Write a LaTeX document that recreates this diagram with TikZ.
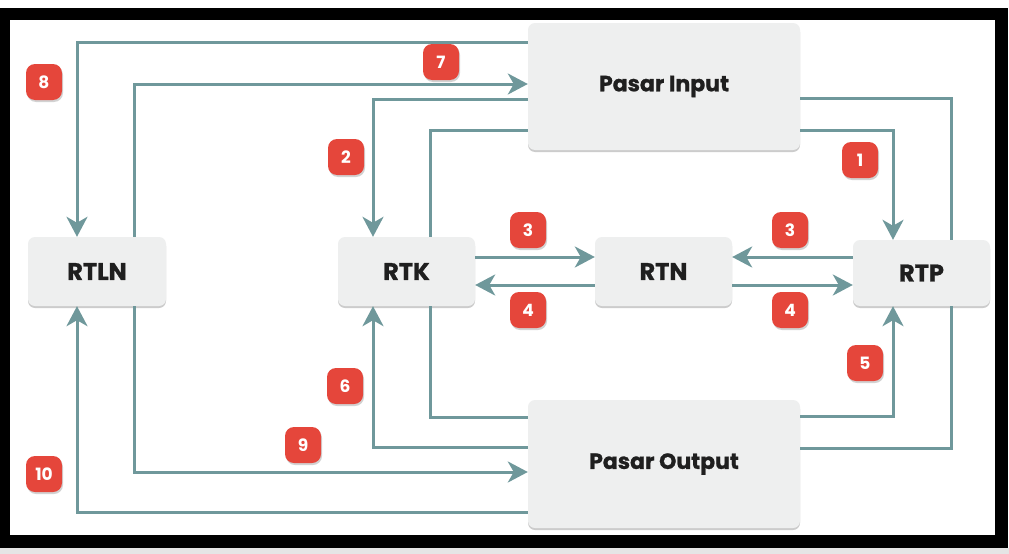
\documentclass[tikz,border=0pt]{standalone}
\usepackage{fontspec}
\setmainfont{Poppins}
\usetikzlibrary{arrows.meta,shadows}
\definecolor{flow}{HTML}{6F989B}
\definecolor{boxfill}{HTML}{EEEFEF}
\definecolor{badgered}{HTML}{E5463B}
\tikzset{
  box/.style={draw=none, fill=boxfill, rounded corners=7pt, drop shadow={shadow xshift=0pt, shadow yshift=-2pt, opacity=0.4, fill=gray}, font=\fontsize{22}{25}\selectfont\bfseries\addfontfeature{FakeBold=1}, text=black!88},
  smallbox/.style={box, font=\fontsize{24}{27}\selectfont\bfseries\addfontfeature{FakeBold=1}},
  badge/.style={fill=badgered, rounded corners=9pt, minimum width=36pt, minimum height=36pt, inner sep=0pt, text=white, font=\fontsize{17}{19}\selectfont\bfseries, drop shadow={shadow xshift=1pt, shadow yshift=-2pt, opacity=0.35, fill=gray}},
  flowline/.style={draw=flow, line width=3pt},
  arr/.style={flowline, -{Stealth[length=20pt,width=21pt,inset=6pt]}},
}
\begin{document}
\begin{tikzpicture}[x=1pt,y=-1pt]
\useasboundingbox (0,0) rectangle (1009,554);
\fill[white] (0,0) rectangle (1009,554);
\fill[black!10] (0,548) rectangle (1009,554);
\fill[black] (0,8) rectangle (1008,548);
\fill[white] (10,20) rectangle (995,535);

% nodes
\node[box, minimum width=272pt, minimum height=127pt] (pin) at (664,86.5) {Pasar Input};
\node[box, minimum width=272pt, minimum height=128pt] (pout) at (664,464) {Pasar Output};
\node[smallbox, minimum width=138pt, minimum height=69pt] (rtln) at (97,271.5) {RTLN};
\node[smallbox, minimum width=137pt, minimum height=69pt] (rtk) at (406.5,271.5) {RTK};
\node[smallbox, minimum width=137pt, minimum height=69pt] (rtn) at (663.5,271.5) {RTN};
\node[smallbox, minimum width=137pt, minimum height=66pt] (rtp) at (921.5,273) {RTP};

% coordinates for bends
\coordinate (c8a) at (77,42);
\coordinate (c7a) at (134,84);
\coordinate (c2a) at (373,99);
\coordinate (cka) at (430,130);
\coordinate (cp1) at (893,130);
\coordinate (cp2) at (951,98);
\coordinate (co1) at (430,417);
\coordinate (co2) at (373,447);
\coordinate (c9a) at (134,472);
\coordinate (c10a) at (77,512);
\coordinate (co5) at (893,416);
\coordinate (co6) at (951,448);

% 8: Pasar Input -> RTLN
\draw[arr] (pin.west |- c8a) -- (c8a) -- (c8a |- rtln.north);
% 7: RTLN -> Pasar Input
\draw[arr] (c7a |- rtln.north) -- (c7a) -- (pin.west |- c7a);
% 2: Pasar Input -> RTK
\draw[arr] (pin.west |- c2a) -- (c2a) -- (c2a |- rtk.north);
% RTK -> Pasar Input
\draw[flowline] (cka |- rtk.north) -- (cka) -- (pin.west |- cka);
% Pasar Input -> RTP (1)
\draw[arr] (pin.east |- cp1) -- (cp1) -- (cp1 |- rtp.north);
% RTP -> Pasar Input
\draw[flowline] (cp2 |- rtp.north) -- (cp2) -- (pin.east |- cp2);

% 3 and 4
\draw[arr] (rtk.east |- 0,257) -- (rtn.west |- 0,257);
\draw[arr] (rtn.west |- 0,285) -- (rtk.east |- 0,285);
\draw[arr] (rtp.west |- 0,257) -- (rtn.east |- 0,257);
\draw[arr] (rtn.east |- 0,285) -- (rtp.west |- 0,285);

% bottom
\draw[flowline] (pout.west |- co1) -- (co1) -- (co1 |- rtk.south);
\draw[arr] (pout.west |- co2) -- (co2) -- (co2 |- rtk.south);
\draw[arr] (c9a |- rtln.south) -- (c9a) -- (pout.west |- c9a);
\draw[arr] (pout.west |- c10a) -- (c10a) -- (c10a |- rtln.south);
\draw[arr] (pout.east |- co5) -- (co5) -- (co5 |- rtp.south);
\draw[flowline] (pout.east |- co6) -- (co6) -- (co6 |- rtp.south);

% badges
\node[badge] (b8) at (44,82) {8};
\node[badge] (b7) at (441,62) {7};
\node[badge] (b2) at (346,157) {2};
\node[badge] (b1) at (860,160) {1};
\node[badge] (b3a) at (528,230) {3};
\node[badge] (b3b) at (790,230) {3};
\node[badge] (b4a) at (528,310) {4};
\node[badge] (b4b) at (790,310) {4};
\node[badge] (b5) at (865,363) {5};
\node[badge] (b6) at (345,386) {6};
\node[badge] (b9) at (303,445) {9};
\node[badge] (b10) at (44,474) {10};
\end{tikzpicture}
\end{document}
